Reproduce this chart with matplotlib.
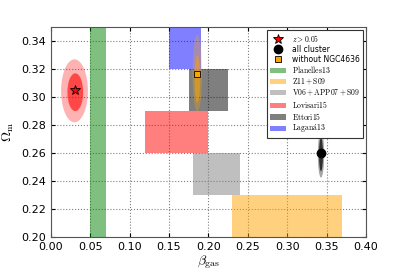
import matplotlib
matplotlib.use("Agg")
import matplotlib.pyplot as plt
from matplotlib.patches import Rectangle, Ellipse

plt.rcParams['mathtext.fontset'] = 'cm'
plt.rcParams['font.family'] = 'DejaVu Sans'

# constraints as boxes: (beta_min, beta_max, omega_min, omega_max)
box_names = [r'$\rm Planelles13$', r'$\rm Z11+S09$', r'$\rm V06+APP07+S09$',
             r'$\rm Lovisari15$', r'$\rm Ettori15$', r'$\rm Lagan\acute{a}13$']
box_beta_lo = [0.05, 0.23, 0.18, 0.12, 0.175, 0.15]
box_beta_hi = [0.07, 0.37, 0.24, 0.20, 0.225, 0.19]
box_om_lo = [0.20, 0.20, 0.23, 0.26, 0.29, 0.32]
box_om_hi = [0.35, 0.23, 0.26, 0.29, 0.32, 0.35]
box_colors = ['green', 'orange', 'gray', 'red', 'black', 'blue']

# best fits
star_beta, star_om = 0.031, 0.305        # z > 0.05
all_beta, all_om = 0.343, 0.260          # all cluster
noN_beta, noN_om = 0.186, 0.3165         # without NGC4636

# confidence regions (center beta, center om, width, height) for 2 and 1 sigma
star_cont = [(0.030, 0.3045, 0.034, 0.045), (0.031, 0.3035, 0.020, 0.027)]
all_cont = [(0.343, 0.259, 0.008, 0.033), (0.343, 0.259, 0.005, 0.024)]
noN_cont = [(0.186, 0.317, 0.012, 0.055), (0.186, 0.313, 0.007, 0.034)]

fig = plt.figure(figsize=(4.07, 2.71), dpi=100)
ax = fig.add_axes([0.125, 0.125, 0.774, 0.775])

for i in range(len(box_names)):
    ax.add_patch(Rectangle((box_beta_lo[i], box_om_lo[i]),
                           box_beta_hi[i] - box_beta_lo[i],
                           box_om_hi[i] - box_om_lo[i],
                           facecolor=box_colors[i], edgecolor='none', alpha=0.5,
                           label=box_names[i], zorder=2))

for (cx, cy, w, h), a in zip(star_cont, [0.3, 0.6]):
    ax.add_patch(Ellipse((cx, cy), w, h, facecolor='red', edgecolor='none', alpha=a, zorder=3))
for (cx, cy, w, h), a in zip(all_cont, [0.35, 0.7]):
    ax.add_patch(Ellipse((cx, cy), w, h, facecolor='black', edgecolor='none', alpha=a, zorder=3))
for (cx, cy, w, h), a in zip(noN_cont, [0.3, 0.5]):
    ax.add_patch(Ellipse((cx, cy), w, h, facecolor='orange', edgecolor='none', alpha=a, zorder=3))

ax.plot([star_beta], [star_om], marker='*', color='red', mec='black', ms=7, mew=0.6,
        label=r'$z>0.05$', zorder=6, ls='none')
ax.plot([all_beta], [all_om], marker='o', color='black', mec='black', ms=6,
        label='all cluster', zorder=6, ls='none')
ax.plot([noN_beta], [noN_om], marker='s', color='orange', mec='black', ms=5, mew=0.6,
        label='without NGC4636', zorder=6, ls='none')

ax.set_xlim(0.0, 0.40)
ax.set_ylim(0.20, 0.35)
ax.set_xticks([0.00, 0.05, 0.10, 0.15, 0.20, 0.25, 0.30, 0.35, 0.40])
ax.set_yticks([0.20, 0.22, 0.24, 0.26, 0.28, 0.30, 0.32, 0.34])
ax.tick_params(direction='in', top=True, right=True, labelsize=8, length=3)
ax.grid(True, color='gray', linestyle=':', linewidth=0.8)
ax.set_axisbelow(True)
for s in ax.spines.values():
    s.set_color('#555555')

ax.set_xlabel(r'$\beta_{\rm gas}$', fontsize=10, labelpad=1)
ax.set_ylabel(r'$\Omega_{\rm m}$', fontsize=10, labelpad=4)

h, l = ax.get_legend_handles_labels()
order = [6, 7, 8, 0, 1, 2, 3, 4, 5]
leg = ax.legend([h[i] for i in order], [l[i] for i in order], loc='upper right',
                fontsize=5.5, numpoints=1, fancybox=False, framealpha=1,
                edgecolor='#333333', handlelength=2.1, borderpad=0.4, labelspacing=0.12,
                handleheight=0.7, borderaxespad=0.4)
leg.get_frame().set_linewidth(0.8)

fig.savefig('out.png', dpi=100)
